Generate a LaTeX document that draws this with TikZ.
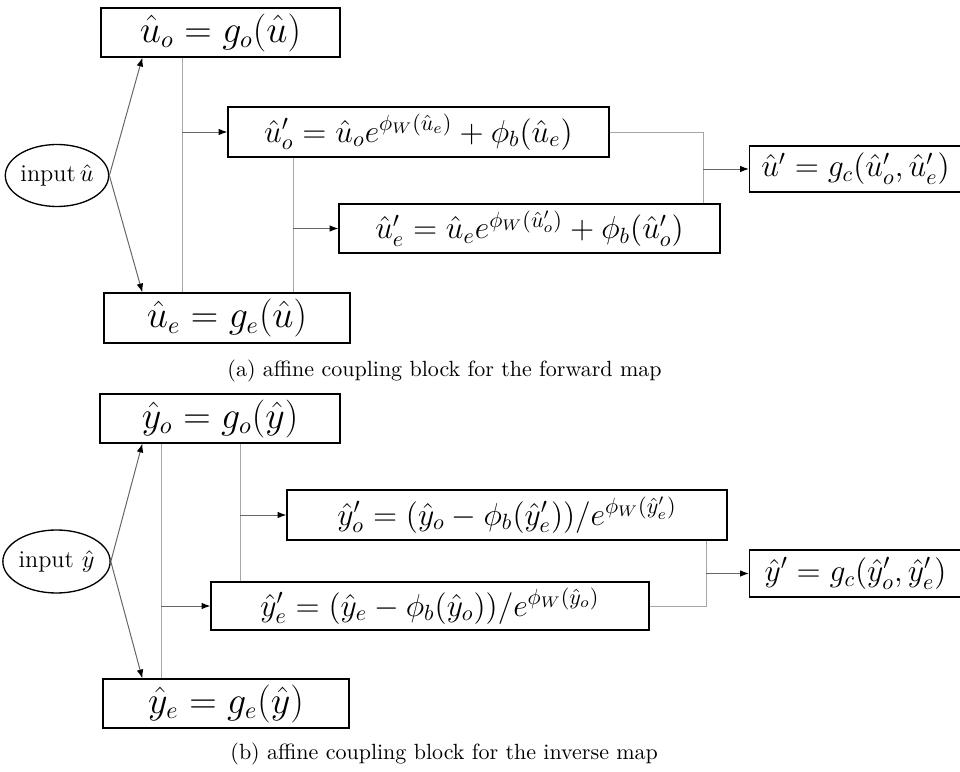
\documentclass[tikz,border=0pt]{standalone}
\usetikzlibrary{shapes.geometric,arrows.meta,calc}
\newcommand\pxu{0.4545pt}
\tikzset{
  bx/.style 2 args={draw=black, line width=0.6pt, inner sep=0pt, minimum width=#1*\pxu, minimum height=#2*\pxu},
  fA/.style={font=\fontsize{16}{19}\selectfont},
  fB/.style={font=\fontsize{14.6}{17}\selectfont},
  fC/.style={font=\fontsize{13.8}{16}\selectfont},
  fD/.style={font=\fontsize{14.6}{17}\selectfont},
  inp/.style 2 args={draw=black, line width=0.6pt, ellipse, inner sep=0pt, minimum width=#1*\pxu, minimum height=#2*\pxu, font=\fontsize{11}{13}\selectfont},
  vline/.style={draw=black!35, line width=0.45pt},
  arr/.style={draw=black!60, line width=0.45pt, -{Latex[length=4pt,width=3pt,color=black]}},
  capt/.style={anchor=west, inner sep=0pt, font=\fontsize{10}{12}\selectfont}
}
\begin{document}
\begin{tikzpicture}[x=\pxu, y=-\pxu]
\useasboundingbox (0,0) rectangle (960,772);
% ---------- forward ----------
\node[bx={239}{49}, fA] (uo) at (220.5,32.5) {$\hat u_o = g_o(\hat u)$};
\node[inp={100}{62}] (inpU) at (57,175.5) {input\,$\hat u$};
\node[bx={246}{50}, fA] (ue) at (227,318) {$\hat u_e = g_e(\hat u)$};
\node[bx={381}{50}, fB] (uop) at (418.5,132) {$\hat u'_o = \hat u_o e^{\phi_W(\hat u_e)} + \phi_b(\hat u_e)$};
\node[bx={381}{49}, fB] (uep) at (529.5,228.5) {$\hat u'_e = \hat u_e e^{\phi_W(\hat u'_o)} + \phi_b(\hat u'_o)$};
\node[bx={212}{46}, fD] (up) at (855.5,169) {$\hat u' = g_c(\hat u'_o, \hat u'_e)$};
\coordinate (c1) at (182,0);
\coordinate (c2) at (293,0);
\coordinate (c3) at (703,0);
\draw[arr] (inpU.east) -- ($(uo.south west)+(42,0)$);
\draw[arr] (inpU.east) -- ($(ue.north west)+(39,0)$);
\draw[vline] (uo.south -| c1) -- (ue.north -| c1);
\draw[arr] (c1 |- uop.west) -- (uop.west);
\draw[vline] (uop.south -| c2) -- (ue.north -| c2);
\draw[arr] (c2 |- uep.west) -- (uep.west);
\draw[vline] (uop.east) -| (uep.north -| c3);
\draw[arr] (c3 |- up.west) -- (up.west);
\node[capt] (capA) at (227,371) {(a) affine coupling block for the forward map};
% ---------- inverse ----------
\node[bx={240}{49}, fA] (yo) at (220,418.5) {$\hat y_o = g_o(\hat y)$};
\node[inp={99}{63}] (inpY) at (56.5,561.5) {input $\hat y$};
\node[bx={246}{49}, fA] (ye) at (226,703.5) {$\hat y_e = g_e(\hat y)$};
\node[bx={440}{50}, fC] (yop) at (507,515) {$\hat y'_o = (\hat y_o - \phi_b(\hat y'_e))/e^{\phi_W(\hat y'_e)}$};
\node[bx={438}{48}, fC] (yep) at (430,606) {$\hat y'_e = (\hat y_e - \phi_b(\hat y_o))/e^{\phi_W(\hat y_o)}$};
\node[bx={212}{47}, fD] (yp) at (855.5,573.5) {$\hat y' = g_c(\hat y'_o, \hat y'_e)$};
\coordinate (d1) at (161,0);
\coordinate (d2) at (240,0);
\coordinate (d3) at (706,0);
\draw[arr] (inpY.east) -- ($(yo.south west)+(43,0)$);
\draw[arr] (inpY.east) -- ($(ye.north west)+(40,0)$);
\draw[vline] (yo.south -| d1) -- (ye.north -| d1);
\draw[arr] (d1 |- yep.west) -- (yep.west);
\draw[vline] (yo.south -| d2) -- (yep.north -| d2);
\draw[arr] (d2 |- yop.west) -- (yop.west);
\draw[vline] (yop.south -| d3) |- (yep.east);
\draw[arr] (d3 |- yp.west) -- (yp.west);
\node[capt] (capB) at (230,754) {(b) affine coupling block for the inverse map};
\end{tikzpicture}
\end{document}
